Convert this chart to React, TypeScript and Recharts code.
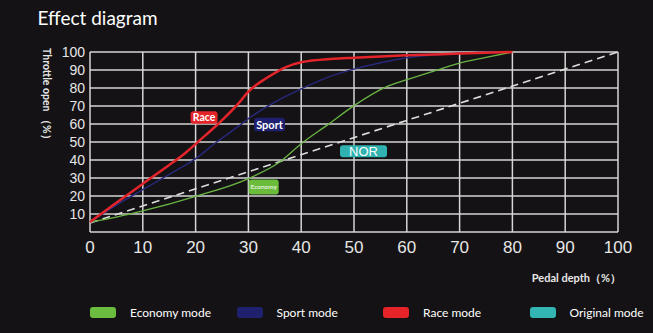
import { LineChart, Line, XAxis, YAxis, CartesianGrid, ReferenceDot } from "recharts";

// pedal depth (%) -> throttle open (%) per mode
const pedalTicks = [0, 10, 20, 30, 40, 50, 60, 70, 80, 90, 100];
const throttleTicks = [0, 10, 20, 30, 40, 50, 60, 70, 80, 90, 100];

const economyPedal = [0, 5, 10, 20, 30, 36, 40, 45, 50, 56, 60, 66, 70, 75, 80];
const economyThrottle = [5.5, 8.3, 11.7, 19.8, 29.7, 39, 49, 59.5, 70.2, 80.5, 84.6, 90.2, 93.8, 97, 100];

const sportPedal = [0, 5, 10, 15, 20, 24, 28, 30, 34, 40, 46, 50, 55, 60, 70, 78];
const sportThrottle = [5.5, 15, 23.5, 32, 40.8, 50, 58.5, 63, 70.5, 79.5, 87, 90.5, 94, 96.8, 99.3, 100];

const racePedal = [0, 5, 10, 15, 18, 20.6, 24, 28, 30, 33.6, 37, 40, 46, 50, 60, 70, 80];
const raceThrottle = [5.5, 16.3, 26.8, 37.2, 43.8, 50.5, 59.3, 71, 78, 85.8, 91.5, 94.3, 96.2, 96.8, 98.2, 99.1, 100];

const originalPedal = [0, 100];
const originalThrottle = [5, 100];

const legendNames = ["Economy mode", "Sport mode", "Race mode", "Original mode"];

const tagNames = ["Race", "Sport", "Economy", "NOR"];
const tagPedal = [21.6, 34, 32.9, 51.8];
const tagThrottle = [63.6, 59.7, 25, 44.8];

const colors: Record<string, string> = {
  "Economy mode": "#6bbd3f",
  "Sport mode": "#20216e",
  "Race mode": "#e5242a",
  "Original mode": "#33b5b3",
};

const tagStyle: Record<string, { w: number; h: number; fill: string; size: number; weight: number; font: string }> = {
  Race: { w: 27, h: 12.5, fill: "#e5242a", size: 10.5, weight: 700, font: "Lato" },
  Sport: { w: 31, h: 13.5, fill: "#1f2070", size: 11, weight: 700, font: "Lato" },
  Economy: { w: 30, h: 15, fill: "#6cbc3c", size: 6.5, weight: 400, font: "Lato" },
  NOR: { w: 47, h: 12, fill: "#30b3b0", size: 13, weight: 400, font: "Liberation Sans" },
};

const zip = (xs: number[], ys: number[]) => xs.map((x, i) => ({ x, y: ys[i] }));

const economy = zip(economyPedal, economyThrottle);
const sport = zip(sportPedal, sportThrottle);
const race = zip(racePedal, raceThrottle);
const original = zip(originalPedal, originalThrottle);

function Tag(props: any) {
  const { cx, cy, name } = props;
  const s = tagStyle[name];
  return (
    <g>
      <rect x={cx - s.w / 2} y={cy - s.h / 2} width={s.w} height={s.h} rx={3} fill={s.fill} />
      <text
        x={cx}
        y={cy}
        dy="0.36em"
        textAnchor="middle"
        fill="#fff"
        fontSize={s.size}
        fontWeight={s.weight}
        fontFamily={s.font}
      >
        {name}
      </text>
    </g>
  );
}

export default function App() {
  const tickStyle = { fill: "#e6e6e6", fontFamily: "Liberation Sans" };
  return (
    <div style={{ position: "absolute", left: 0, top: 0, width: 653, height: 333, background: "#141214", overflow: "hidden" }}>
      <LineChart width={653} height={333} margin={{ top: 52, right: 35, left: 0, bottom: 71 }}>
        <CartesianGrid stroke="#d6d6d6" strokeWidth={1.5} />
        <XAxis
          dataKey="x"
          type="number"
          domain={[0, 100]}
          ticks={pedalTicks}
          interval={0}
          height={30}
          tickLine={false}
          axisLine={false}
          tickSize={6}
          tickMargin={3}
          tick={{ ...tickStyle, fontSize: 17 }}
        />
        <YAxis
          dataKey="y"
          type="number"
          domain={[0, 100]}
          ticks={throttleTicks}
          interval={0}
          width={90}
          tickLine={false}
          axisLine={false}
          tickSize={3}
          tickMargin={2}
          tickFormatter={(v: number) => (v === 0 ? "" : String(v))}
          tick={{ ...tickStyle, fontSize: 14 }}
        />
        <Line data={original} dataKey="y" type="linear" stroke="#dedede" strokeWidth={1.6} strokeDasharray="8 5" dot={false} isAnimationActive={false} />
        <Line data={economy} dataKey="y" type="monotone" stroke="#6ab443" strokeWidth={1.3} dot={false} isAnimationActive={false} />
        <Line data={sport} dataKey="y" type="monotone" stroke="#27287a" strokeWidth={1.5} dot={false} isAnimationActive={false} />
        <Line data={race} dataKey="y" type="monotone" stroke="#e3242b" strokeWidth={2.5} dot={false} isAnimationActive={false} />
        {tagNames.map((name, i) => (
          <ReferenceDot
            key={name}
            x={tagPedal[i]}
            y={tagThrottle[i]}
            r={1}
            shape={(p: any) => <Tag {...p} name={name} />}
          />
        ))}
      </LineChart>

      <svg width={653} height={333} style={{ position: "absolute", left: 0, top: 0, pointerEvents: "none" }}>
        <text x={37.5} y={25} fill="#fff" fontSize={19} fontFamily="Lato">
          Effect diagram
        </text>
        <text
          x={42.5}
          y={48}
          transform="rotate(90 42.5 48)"
          fill="#e6e6e6"
          fontSize={10.5}
          fontWeight={700}
          fontFamily="Lato"
        >
          Throttle open （%）
        </text>
        <text x={621} y={282} textAnchor="end" fill="#e6e6e6" fontSize={11} fontWeight={700} fontFamily="Lato">
          Pedal depth（%）
        </text>
      </svg>

      <div style={{ position: "absolute", left: 90, top: 305, display: "flex", fontFamily: "Lato", fontSize: 12, color: "#fff" }}>
        {legendNames.map((name) => (
          <div key={name} style={{ width: 146.5, display: "flex", alignItems: "center" }}>
            <span style={{ width: 26, height: 11.5, borderRadius: 3, background: colors[name], marginRight: 14 }} />
            <span>{name}</span>
          </div>
        ))}
      </div>
    </div>
  );
}
